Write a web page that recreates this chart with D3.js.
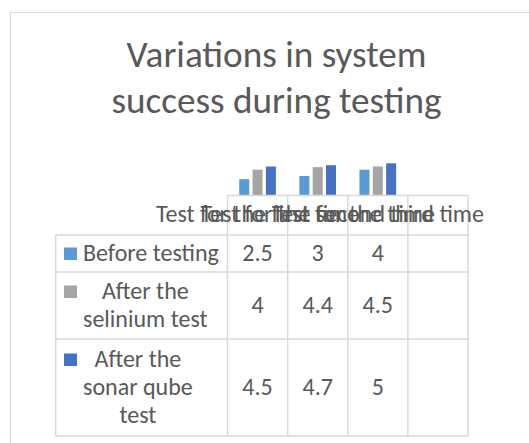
<html>
<head>
<meta charset="utf-8">
<script src="https://cdnjs.cloudflare.com/ajax/libs/d3/7.8.5/d3.min.js"></script>
<style>
  body { margin: 0; background: #fff; }
</style>
</head>
<body>
<div id="chartContainer"></div>
<script>
// chart values
var titleLines = ["Variations in system", "success during testing"];
var categories = ["Test for the first time", "Test for the second time", "Test for the third time", ""];
var seriesNames = ["Before testing", "After the selinium test", "After the sonar qube test"];
var beforeTesting = [2.5, 3, 4];
var afterSelinium = [4, 4.4, 4.5];
var afterSonarQube = [4.5, 4.7, 5];
var seriesColors = ["#5B9BD5", "#A5A5A5", "#4472C4"];

var seriesValues = [beforeTesting, afterSelinium, afterSonarQube];
var FONT = "Carlito, Calibri, Lato, sans-serif";
var textColor = "#595959", gridColor = "#d9d9d9";

var svg = d3.select("#chartContainer").append("svg")
  .attr("width", 529).attr("height", 443);

// scale font sizes so the text widths match the picture
function fitSize(str, target) {
  var t = svg.append("text").style("font-family", FONT).style("font-size", "100px").text(str);
  var w = t.node().getComputedTextLength();
  t.remove();
  return 100 * target / w;
}
var titleSize = fitSize(titleLines[0], 300);
var tableSize = fitSize(seriesNames[0], 136);

function textWidth(str) {
  var t = svg.append("text").style("font-family", FONT).style("font-size", tableSize + "px").text(str);
  var w = t.node().getComputedTextLength();
  t.remove();
  return w;
}
function wrap(str, maxW) {
  var words = str.split(" "), lines = [], cur = "";
  words.forEach(function (w) {
    var next = cur ? cur + " " + w : w;
    if (cur && textWidth(next) > maxW) { lines.push(cur); cur = w; }
    else cur = next;
  });
  lines.push(cur);
  return lines;
}

// chart area border
svg.append("rect")
  .attr("x", 10.5).attr("y", 12.5).attr("width", 700).attr("height", 700)
  .attr("fill", "none").attr("stroke", gridColor).attr("stroke-width", 1);

// title
svg.selectAll(".title").data(titleLines).enter().append("text")
  .attr("class", "title")
  .attr("x", 276.5)
  .attr("y", function (d, i) { return 67 + i * 46; })
  .attr("text-anchor", "middle")
  .style("font-family", FONT).style("font-size", titleSize + "px")
  .style("fill", textColor)
  .text(function (d) { return d; });

// scales
var x0 = d3.scaleBand().domain(categories).range([227.5, 468]);
var x1 = d3.scaleBand().domain(seriesNames).range([0, x0.bandwidth()])
  .paddingInner(0.25).paddingOuter(0.88);
var y = d3.scaleLinear().domain([0, 6]).range([195, 157]);

// bars
var groups = svg.selectAll(".cat").data(categories.slice(0, beforeTesting.length)).enter()
  .append("g").attr("class", "cat")
  .attr("transform", function (d) { return "translate(" + x0(d) + ",0)"; });
groups.selectAll("rect").data(function (d, ci) {
    return seriesNames.map(function (s, si) { return { s: s, v: seriesValues[si][ci], c: seriesColors[si] }; });
  }).enter().append("rect")
  .attr("x", function (d) { return x1(d.s); })
  .attr("y", function (d) { return y(d.v); })
  .attr("width", x1.bandwidth())
  .attr("height", function (d) { return y(0) - y(d.v); })
  .attr("fill", function (d) { return d.c; });

// category axis line
var xAxis = svg.append("g").attr("transform", "translate(0," + y(0) + ")")
  .call(d3.axisBottom(x0).tickSize(0).tickSizeOuter(0).tickFormat(""));
xAxis.select(".domain").attr("stroke", gridColor).attr("stroke-width", 1.5);

// data table layout
var tableLeft = 55.7, tableTop = 235, tableRight = 468;
var lineH = 28;
var rows = seriesNames.map(function (s, i) {
  return { name: s, lines: wrap(s, 140), color: seriesColors[i], values: seriesValues[i] };
});
var yPos = tableTop;
rows.forEach(function (r) {
  r.top = yPos;
  r.h = 7 + 30 * r.lines.length;
  yPos += r.h;
});
var tableBottom = yPos;

var grid = svg.append("g").attr("stroke", gridColor).attr("stroke-width", 1.5);
// column boundaries, from the axis down through the table
categories.forEach(function (c) {
  grid.append("line").attr("x1", x0(c)).attr("x2", x0(c)).attr("y1", y(0)).attr("y2", tableBottom);
});
grid.append("line").attr("x1", tableRight).attr("x2", tableRight).attr("y1", y(0)).attr("y2", tableBottom);
grid.append("line").attr("x1", tableLeft).attr("x2", tableLeft).attr("y1", tableTop).attr("y2", tableBottom);
[tableTop].concat(rows.map(function (r) { return r.top + r.h; })).forEach(function (yy) {
  grid.append("line").attr("x1", tableLeft).attr("x2", tableRight).attr("y1", yy).attr("y2", yy);
});

// category header labels
svg.selectAll(".catLabel").data(categories).enter().append("text")
  .attr("class", "catLabel")
  .attr("x", function (d) { return x0(d) + x0.bandwidth() / 2; })
  .attr("y", 221.7)
  .attr("text-anchor", "middle")
  .style("font-family", FONT).style("font-size", tableSize + "px")
  .style("fill", textColor)
  .text(function (d) { return d; });

// table rows: legend key, name, values
rows.forEach(function (r) {
  var mid = r.top + r.h / 2;
  var firstBase = mid - (r.lines.length - 1) * lineH / 2 + 7;
  var blockW = d3.max(r.lines, textWidth);
  svg.append("rect")
    .attr("x", 64).attr("y", firstBase - 13)
    .attr("width", 13).attr("height", 12.5)
    .attr("fill", r.color);
  r.lines.forEach(function (ln, i) {
    svg.append("text")
      .attr("x", 83 + blockW / 2)
      .attr("y", firstBase + i * lineH)
      .attr("text-anchor", "middle")
      .style("font-family", FONT).style("font-size", tableSize + "px")
      .style("fill", textColor)
      .text(ln);
  });
  r.values.forEach(function (v, ci) {
    svg.append("text")
      .attr("x", x0(categories[ci]) + x0.bandwidth() / 2)
      .attr("y", mid + 7)
      .attr("text-anchor", "middle")
      .style("font-family", FONT).style("font-size", tableSize + "px")
      .style("fill", textColor)
      .text(v);
  });
});
</script>
</body>
</html>
